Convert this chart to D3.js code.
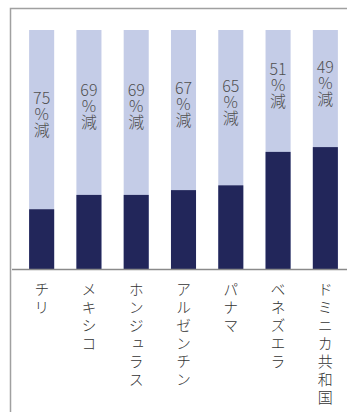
<!DOCTYPE html>
<html>
  <head>
    <meta charset="utf-8">
    <title>減少率</title>
    <script src="https://cdn.jsdelivr.net/npm/d3@7"></script>
    <style>
      body { margin: 0; background: #fff; }
      #chart { display: block; }
      .axis .domain { stroke: #8a8a8a; stroke-width: 1.5; }
      .axis text {
        font-family: "Noto Sans CJK JP", sans-serif;
        font-size: 15px;
        font-weight: 300;
        fill: #333;
        writing-mode: vertical-rl;
        letter-spacing: 3px;
      }
      .pct {
        font-family: "Noto Sans CJK JP", sans-serif;
        font-size: 16px;
        font-weight: 300;
        fill: #505050;
      }
    </style>
  </head>

  <body>
    <svg id="chart" width="347" height="412">
      <g id="frame"></g>
      <g id="chartGroup"></g>
      <g id="xAxisGroup" class="axis"></g>
    </svg>

    <script>
      // data
      countries = ["チリ", "メキシコ", "ホンジュラス", "アルゼンチン", "パナマ", "ベネズエラ", "ドミニカ共和国"];
      reductions = [75, 69, 69, 67, 65, 51, 49];

      chart = d3.select("#chart");
      chartGroup = d3.select("#chartGroup");
      xAxisGroup = d3.select("#xAxisGroup");

      margin = { top: 30, bottom: 143 };
      height = 412;

      x = d3.scaleBand()
        .domain(countries)
        .range([18, 349])
        .paddingInner(.47)
        .paddingOuter(.235);

      y = d3.scaleLinear()
        .domain([0, 100])
        .range([height - margin.bottom, margin.top]);

      // frame
      d3.select("#frame").append("path")
        .attr("d", "M10.5,412V8.5H347")
        .attr("fill", "none")
        .attr("stroke", "#a0a0a0")
        .attr("stroke-width", 1.5);

      data = countries.map((c, i) => ({ country: c, reduction: reductions[i] }));

      bars = chartGroup.selectAll(".bar")
        .data(data)
        .enter().append("g")
          .classed("bar", true);

      bars.append("rect")
        .attr("x", d => x(d.country))
        .attr("width", x.bandwidth())
        .attr("y", y(100))
        .attr("height", y(0) - y(100))
        .attr("fill", "#c4cce7");

      bars.append("rect")
        .attr("x", d => x(d.country))
        .attr("width", x.bandwidth())
        .attr("y", d => y(100 - d.reduction))
        .attr("height", d => y(0) - y(100 - d.reduction))
        .attr("fill", "#22265a");

      // stacked "xx / % / 減" labels in the light part
      labels = bars.append("text")
        .classed("pct", true)
        .attr("text-anchor", "middle")
        .attr("transform", d => "translate(" + (x(d.country) + x.bandwidth() / 2) + "," +
          ((y(100) + y(100 - d.reduction)) / 2 - 16) + ")");

      labels.selectAll("tspan")
        .data(d => [d.reduction, "%", "減"])
        .enter().append("tspan")
          .attr("x", 0)
          .attr("dy", (d, i) => i == 0 ? 0 : 16)
          .text(d => d);

      xAxis = d3.axisBottom(x)
        .tickSize(0)
        .tickPadding(0);

      xAxisGroup.attr("transform", "translate(0," + y(0) + ")")
        .call(xAxis);

      xAxisGroup.select(".domain")
        .attr("d", "M12,0.5H347");

      xAxisGroup.selectAll(".tick text")
        .attr("y", 13)
        .attr("dy", 0)
        .attr("x", 0)
        .attr("text-anchor", "start");
    </script>
  </body>
</html>
